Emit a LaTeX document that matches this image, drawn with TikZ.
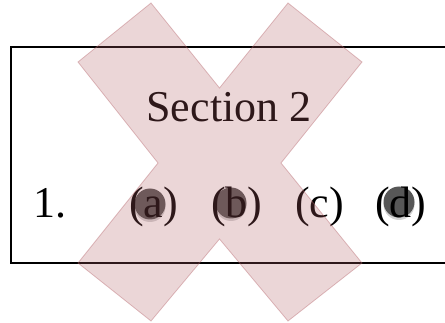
\documentclass[tikz,border=0pt]{standalone}
\usepackage{fontspec}
\setmainfont{Liberation Serif}
\usepackage{tikz}
\usetikzlibrary{shadows}

\definecolor{crossred}{RGB}{178,96,102}

\tikzset{
  label/.style={font=\fontsize{44}{50}\selectfont, inner sep=0pt, text=black},
  blob/.style={circle, fill=black!66, minimum size=31pt, inner sep=0pt,
    drop shadow={opacity=0.35, shadow xshift=0pt, shadow yshift=-2.5pt}}
}

\begin{document}
\begin{tikzpicture}[x=1pt, y=-1pt]
        \useasboundingbox (0,0) rectangle (445,323);

        % Draw the frame
        \draw[line width=2pt] (450,47.5) -- (10.5,47.5) -- (10.5,263.5) -- (450,263.5);

        % Dark marks behind the answers
        \node[blob] (dota) at (150,204) {};
        \node[blob] (dotb) at (231,203) {};
        \node[blob] (dotd) at (399,202) {};

        % Title and the answers
        \node[label, anchor=base] (title) at (229,122) {Section 2};
        \node[label, anchor=base west] (num) at (33,218) {1.};
        \node[label, anchor=base west] (opta) at (129,218) {(a)};
        \node[label, anchor=base west] (optb) at (211,218) {(b)};
        \node[label, anchor=base west] (optc) at (295,218) {(c)};
        \node[label, anchor=base west] (optd) at (375,218) {(d)};

        % Draw the big cross on top
        \filldraw[fill=crossred, fill opacity=0.26, draw=crossred, draw opacity=0.4, line width=0.8pt]
          (151,3) -- (219.5,88) -- (288,3) -- (362,62) -- (281,163) -- (362,263)
          -- (288,321) -- (219.5,239) -- (151,321) -- (78,263) -- (158,163) -- (78,62) -- cycle;
    \end{tikzpicture}
\end{document}
